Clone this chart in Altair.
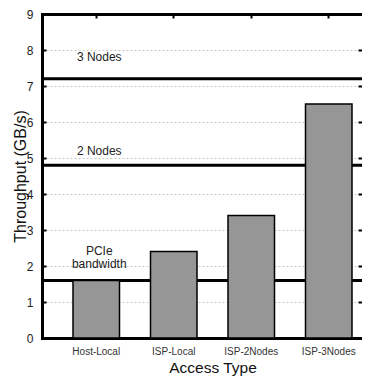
import altair as alt
import pandas as pd

# ---- data ----
categories = ["Host-Local", "ISP-Local", "ISP-2Nodes", "ISP-3Nodes"]
throughput = [1.6, 2.4, 3.4, 6.5]

limit_values = [7.2, 4.8, 1.6]

note_texts = ["3 Nodes", "2 Nodes", "PCIe\nbandwidth"]
note_y = [7.8, 5.2, 2.42]
note_cat = ["Host-Local", "Host-Local", "Host-Local"]

y_tick_values = [0, 1, 2, 3, 4, 5, 6, 7, 8, 9]
y_inner_ticks = [1, 2, 3, 4, 5, 6, 7, 8]

bars_df = pd.DataFrame({"Access Type": categories, "Throughput": throughput})
limits_df = pd.DataFrame({"limit": limit_values})
notes_df = pd.DataFrame({"Access Type": note_cat, "y": note_y, "text": note_texts})

FONT = "Liberation Sans"

x_scale = alt.Scale(domain=categories, range=[0, 341], paddingInner=0.4, paddingOuter=0.4)
y_scale = alt.Scale(domain=[0, 9], nice=False, zero=True)

rules = alt.Chart(limits_df).mark_rule(color="black", strokeWidth=3).encode(
    y=alt.Y("limit:Q", scale=y_scale, axis=None)
)

bars = alt.Chart(bars_df).mark_bar(fill="#969696", stroke="black", strokeWidth=1.5).encode(
    x=alt.X(
        "Access Type:N",
        scale=x_scale,
        axis=alt.Axis(
            orient="bottom", labelAngle=0, ticks=False, tickSize=0,
            domain=True, domainColor="black", domainWidth=3, domainCap="square",
            labelPadding=8, labelFontSize=10, labelColor="#333", labelFont=FONT,
            title="Access Type", titleFontSize=15.5, titleFontWeight="normal",
            titleFont=FONT, titleColor="#111", titlePadding=4, grid=False,
        ),
    ),
    y=alt.Y(
        "Throughput:Q",
        scale=y_scale,
        axis=alt.Axis(
            orient="left", values=y_tick_values, offset=-4, tickSize=4, tickWidth=2,
            tickColor="black", domain=False, labelPadding=9, labelFontSize=12,
            labelColor="#222", labelFont=FONT, title="Throughput (GB/s)",
            titleFontSize=16, titleFontWeight="normal", titleFont=FONT,
            titleColor="#111", titlePadding=-2, grid=True, gridColor="#c8c8c8",
            gridDash=[2, 2], gridWidth=1,
        ),
    ),
)

notes = alt.Chart(notes_df).mark_text(
    fontSize=12, color="#222", font=FONT, lineBreak="\n", lineHeight=13, dx=3
).encode(
    x=alt.X(
        "Access Type:N",
        scale=x_scale,
        axis=alt.Axis(orient="top", domain=True, domainColor="black", domainWidth=3,
                      domainCap="square", ticks=False, labels=False, title=None, grid=False),
    ),
    y=alt.Y(
        "y:Q",
        scale=y_scale,
        axis=alt.Axis(orient="left", domain=True, domainColor="black", domainWidth=3,
                      domainCap="square", ticks=False, labels=False, title=None, grid=False),
    ),
    text="text:N",
)

tick_layer = alt.Chart(bars_df).mark_point(opacity=0).encode(
    x=alt.X(
        "Access Type:N",
        scale=x_scale,
        axis=alt.Axis(orient="top", offset=-4, tickSize=4, tickWidth=2, tickColor="black",
                      labels=False, domain=False, title=None, grid=False),
    ),
    y=alt.Y(
        "Throughput:Q",
        scale=y_scale,
        axis=alt.Axis(orient="right", offset=-4, values=y_inner_ticks, tickSize=4, tickWidth=2,
                      tickColor="black", labels=False, domain=False, title=None, grid=False),
    ),
)

chart = (
    alt.layer(rules, bars, notes, tick_layer)
    .resolve_axis(x="independent", y="independent")
    .properties(
        width=320,
        height=324,
        autosize=alt.AutoSizeParams(type="none"),
        padding={"left": 34, "top": 6, "right": 0, "bottom": 39},
    )
    .configure_view(stroke="transparent")
)

chart.save("out.html", embed_options={"renderer": "svg", "actions": False})
